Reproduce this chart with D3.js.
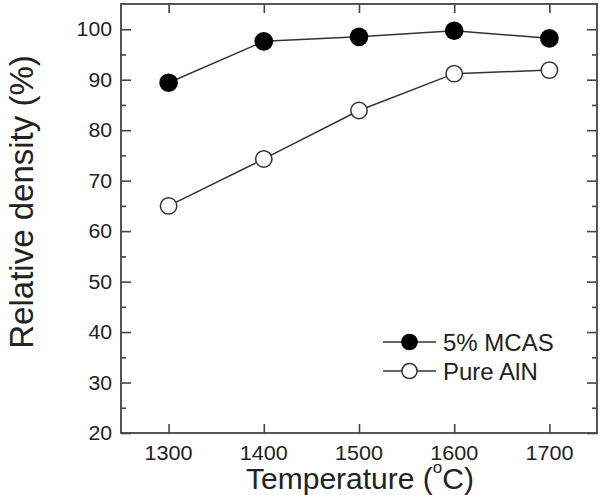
<!DOCTYPE html>
<html><head><meta charset="utf-8">
<script src="https://cdn.jsdelivr.net/npm/d3@7"></script>
<style>body{margin:0;background:#fff;} text{font-family:"Liberation Sans",Arial,sans-serif;}</style>
</head><body>
<svg id="c" width="605" height="495"></svg>
<script>
const temperatures = [1300, 1400, 1500, 1600, 1700];
const mcas = [89.4, 97.6, 98.5, 99.7, 98.2];
const pureAlN = [65.0, 74.3, 83.9, 91.2, 91.9];
const seriesNames = ["5% MCAS", "Pure AlN"];
const yTicks = [20, 30, 40, 50, 60, 70, 80, 90, 100];

const svg = d3.select("#c");
const L = 121, R = 597, T = 4, B = 433;
const x = d3.scaleLinear().domain([1250, 1750]).range([L, R]);
const y = d3.scaleLinear().domain([20, 105]).range([B, T]);
const axisCol = "#444", textCol = "#222";

const minor = d3.range(25, 105, 10);
function styleAxis(g){ g.select(".domain").remove(); g.selectAll("line").attr("stroke", axisCol).attr("stroke-width", 1.6); }

svg.append("g").attr("transform", `translate(${L},0)`)
  .call(d3.axisRight(y).tickValues(yTicks).tickSize(10).tickFormat("")).call(styleAxis);
svg.append("g").attr("transform", `translate(${L},0)`)
  .call(d3.axisRight(y).tickValues(minor).tickSize(5).tickFormat("")).call(styleAxis);
svg.append("g").attr("transform", `translate(${R},0)`)
  .call(d3.axisLeft(y).tickValues(yTicks).tickSize(10).tickFormat("")).call(styleAxis);
svg.append("g").attr("transform", `translate(${R},0)`)
  .call(d3.axisLeft(y).tickValues(minor).tickSize(5).tickFormat("")).call(styleAxis);
svg.append("g").attr("transform", `translate(0,${B})`)
  .call(d3.axisTop(x).tickValues(temperatures).tickSize(9).tickFormat("")).call(styleAxis);
svg.append("g").attr("transform", `translate(0,${T})`)
  .call(d3.axisBottom(x).tickValues(temperatures).tickSize(9).tickFormat("")).call(styleAxis);

// tick labels
svg.append("g").selectAll("text").data(yTicks).join("text")
  .attr("x", L - 9).attr("y", d => y(d)).attr("dy", "0.36em")
  .attr("text-anchor", "end").attr("font-size", 20).attr("fill", textCol)
  .attr("textLength", d => String(d).length * 11.8).attr("lengthAdjust", "spacingAndGlyphs")
  .text(d => d);
svg.append("g").selectAll("text").data(temperatures).join("text")
  .attr("x", d => x(d)).attr("y", 460)
  .attr("text-anchor", "middle").attr("font-size", 20).attr("fill", textCol)
  .attr("textLength", 48).attr("lengthAdjust", "spacingAndGlyphs")
  .text(d => d);

// frame
svg.append("rect").attr("x", L).attr("y", T).attr("width", R - L).attr("height", B - T)
  .attr("fill", "none").attr("stroke", axisCol).attr("stroke-width", 1.8);

// lines & markers
const line = d3.line().x(d => x(d[0])).y(d => y(d[1]));
const sets = [mcas, pureAlN];
sets.forEach((vals, i) => {
  const pts = temperatures.map((t, j) => [t, vals[j]]);
  svg.append("path").datum(pts).attr("d", line)
    .attr("fill", "none").attr("stroke", "#333").attr("stroke-width", 1.5);
  svg.append("g").selectAll("circle").data(pts).join("circle")
    .attr("cx", d => x(d[0])).attr("cy", d => y(d[1])).attr("r", i === 0 ? 8.6 : 8.2)
    .attr("fill", i === 0 ? "#000" : "#fff")
    .attr("stroke", i === 0 ? "#000" : "#333").attr("stroke-width", 1.5);
});

// legend
const legY = [342, 371];
seriesNames.forEach((name, i) => {
  svg.append("line").attr("x1", 383).attr("x2", 436).attr("y1", legY[i]).attr("y2", legY[i])
    .attr("stroke", "#333").attr("stroke-width", 1.5);
  svg.append("circle").attr("cx", 409.5).attr("cy", legY[i]).attr("r", 7.6)
    .attr("fill", i === 0 ? "#000" : "#fff").attr("stroke", i === 0 ? "#000" : "#333").attr("stroke-width", 1.5);
  svg.append("text").attr("x", 443).attr("y", legY[i]).attr("dy", "0.36em")
    .attr("font-size", 24).attr("fill", textCol).text(name);
});

// axis titles
svg.append("text").attr("transform", "translate(33,202) rotate(-90)")
  .attr("text-anchor", "middle").attr("font-size", 33).attr("fill", textCol)
  .text("Relative density (%)");
const xt = svg.append("text").attr("x", 360).attr("y", 489)
  .attr("text-anchor", "middle").attr("font-size", 30).attr("fill", textCol);
xt.append("tspan").text("Temperature (");
xt.append("tspan").attr("font-size", 17).attr("dy", -16).text("o");
xt.append("tspan").attr("dy", 16).text("C)");
</script>
</body></html>
